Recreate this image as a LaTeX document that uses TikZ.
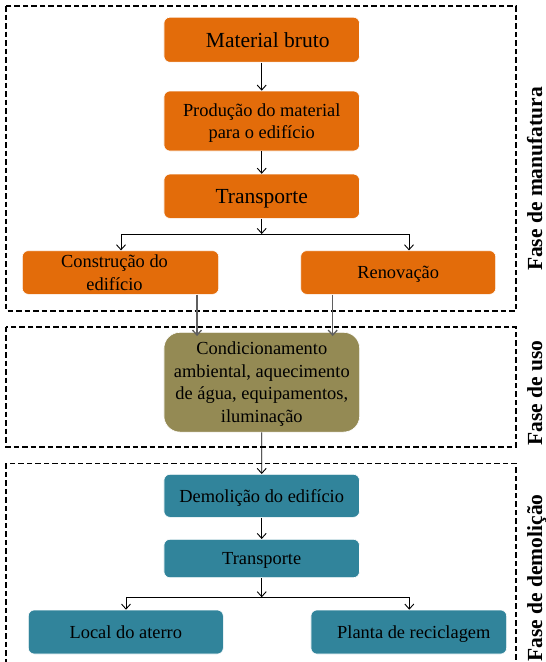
\documentclass[tikz,border=0pt]{standalone}
\usepackage{fontspec}
\setmainfont{Liberation Serif}
\usetikzlibrary{arrows.meta}

\definecolor{manuf}{RGB}{227,108,10}
\definecolor{uso}{RGB}{148,138,84}
\definecolor{demol}{RGB}{49,132,155}
\definecolor{greyarrow}{RGB}{95,95,95}

\tikzset{
  stagebox/.style={rectangle, rounded corners=6pt, draw=white, line width=0.6pt,
    inner sep=0pt, align=center, text=black, text depth=0pt,
    font=\fontsize{18.4}{22.5}\selectfont},
  bigtext/.style={font=\fontsize{21.5}{24}\selectfont},
  phasebox/.style={draw=black, line width=1.6pt, dash pattern=on 5.5pt off 3pt},
  phaselabel/.style={rotate=90, anchor=base, font=\bfseries\fontsize{21.5}{24}\selectfont},
  flow/.style={draw=black, line width=0.9pt, -{Straight Barb[length=5pt,width=9pt]}},
  greyflow/.style={draw=greyarrow, line width=1.3pt, -{Straight Barb[length=5pt,width=9pt]}},
  plain/.style={draw=black, line width=0.9pt}
}

\begin{document}
\begin{tikzpicture}[x=1pt, y=-1pt]
\useasboundingbox (0,0) rectangle (546,662);

% phase frames
\draw[phasebox] (6.2,6.2) rectangle (516,310.7);
\draw[phasebox] (6.2,326.7) rectangle (516,446.7);
\draw[phasebox] (6.2,463.3) rectangle (516,672);

% phase titles
\node[phaselabel] (lblmanuf) at (542,179) {Fase de manufatura};
\node[phaselabel] (lbluso) at (542,393) {Fase de uso};
\node[phaselabel] (lbldemol) at (542,578) {Fase de demolição};

% manufacturing stage
\node[stagebox, bigtext, fill=manuf, minimum width=195.5pt, minimum height=45pt]
  (bruto) at (261.7,39.7) {\hspace*{12pt}Material bruto};
\node[stagebox, fill=manuf, minimum width=195.5pt, minimum height=60pt]
  (producao) at (261.7,121) {Produção do material\\para o edifício};
\node[stagebox, bigtext, fill=manuf, minimum width=195.5pt, minimum height=44.3pt]
  (transp) at (261.7,196.2) {Transporte};
\node[stagebox, fill=manuf, minimum width=196.4pt, minimum height=43.6pt]
  (construcao) at (120.5,272.5) {Construção do\rule{12pt}{0pt}\\edifício\rule{12pt}{0pt}};
\node[stagebox, fill=manuf, minimum width=195pt, minimum height=43.6pt]
  (renovacao) at (398.2,272.5) {Renovação};

% use stage
\node[stagebox, rounded corners=16pt, fill=uso, minimum width=195.7pt, minimum height=99.7pt]
  (condic) at (261.8,382.2) {Condicionamento\\ambiental, aquecimento\\de água, equipamentos,\\iluminação};

% demolition stage
\node[stagebox, fill=demol, minimum width=195.5pt, minimum height=43pt]
  (demolicao) at (261.7,495.8) {Demolição do edifício};
\node[stagebox, fill=demol, minimum width=195.5pt, minimum height=38.4pt]
  (transpdem) at (261.7,558.5) {Transporte};
\node[stagebox, fill=demol, minimum width=195pt, minimum height=44pt]
  (aterro) at (125.8,632) {Local do aterro};
\node[stagebox, fill=demol, minimum width=195.7pt, minimum height=44pt]
  (reciclagem) at (408.8,632) {\hspace*{10pt}Planta de reciclagem};

% branch points
\coordinate (jm) at (261.7,234);
\coordinate (jmL) at (121,234);
\coordinate (jmR) at (409,234);
\coordinate (jd) at (261.7,597.3);
\coordinate (jdL) at (126,597.3);
\coordinate (jdR) at (409.3,597.3);
\coordinate (gL) at (197,0);
\coordinate (gR) at (332.7,0);

% connectors
\draw[flow] (bruto) -- (producao);
\draw[flow] (producao) -- (transp);
\draw[flow] (transp) -- (jm);
\draw[plain] (jmL) -- (jmR);
\draw[flow] (jmL) -- (jmL |- construcao.north);
\draw[flow] (jmR) -- (jmR |- renovacao.north);

\draw[greyflow] (gL |- construcao.south) -- ([yshift=-4pt]gL |- condic.north);
\draw[greyflow] (gR |- renovacao.south) -- ([yshift=-4pt]gR |- condic.north);

\draw[flow] (condic) -- (demolicao);
\draw[flow] (demolicao) -- (transpdem);
\draw[flow] (transpdem) -- (jd);
\draw[plain] (jdL) -- (jdR);
\draw[flow] (jdL) -- (jdL |- aterro.north);
\draw[flow] (jdR) -- (jdR |- reciclagem.north);
\end{tikzpicture}
\end{document}
